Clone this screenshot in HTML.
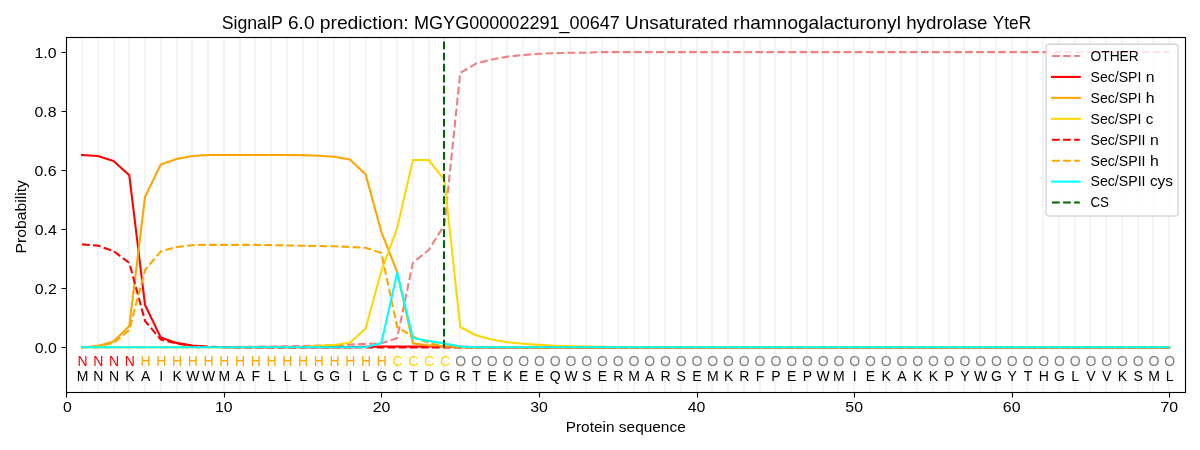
<!DOCTYPE html><html><head><meta charset="utf-8"><title>SignalP 6.0 prediction</title><style>html,body{margin:0;padding:0;background:#fff;overflow:hidden;}svg{display:block;will-change:transform;}text{font-family:"Liberation Sans",sans-serif;}</style></head><body>
<svg width="1200" height="450" viewBox="0 0 1200 450">
<rect x="0" y="0" width="1200" height="450" fill="#ffffff"/>
<path d="M82 37.5V392 M98 37.5V392 M114 37.5V392 M129 37.5V392 M145 37.5V392 M161 37.5V392 M177 37.5V392 M192 37.5V392 M208 37.5V392 M224 37.5V392 M240 37.5V392 M255 37.5V392 M271 37.5V392 M287 37.5V392 M303 37.5V392 M318 37.5V392 M334 37.5V392 M350 37.5V392 M366 37.5V392 M381 37.5V392 M397 37.5V392 M413 37.5V392 M429 37.5V392 M444 37.5V392 M460 37.5V392 M476 37.5V392 M492 37.5V392 M507 37.5V392 M523 37.5V392 M539 37.5V392 M555 37.5V392 M570 37.5V392 M586 37.5V392 M602 37.5V392 M618 37.5V392 M634 37.5V392 M649 37.5V392 M665 37.5V392 M681 37.5V392 M697 37.5V392 M712 37.5V392 M728 37.5V392 M744 37.5V392 M760 37.5V392 M775 37.5V392 M791 37.5V392 M807 37.5V392 M823 37.5V392 M838 37.5V392 M854 37.5V392 M870 37.5V392 M886 37.5V392 M901 37.5V392 M917 37.5V392 M933 37.5V392 M949 37.5V392 M964 37.5V392 M980 37.5V392 M996 37.5V392 M1012 37.5V392 M1027 37.5V392 M1043 37.5V392 M1059 37.5V392 M1075 37.5V392 M1090 37.5V392 M1106 37.5V392 M1122 37.5V392 M1138 37.5V392 M1153 37.5V392 M1169 37.5V392" stroke="#f4f4f4" stroke-width="2.0833" fill="none"/>
<defs><clipPath id="ax"><rect x="66.5" y="37.5" width="1119" height="355"/></clipPath></defs>
<g clip-path="url(#ax)" fill="none" stroke-width="2.0833" stroke-linejoin="round">
<polyline points="82.04,347.27 97.79,347.27 113.55,347.27 129.31,347.27 145.06,347.27 160.82,347.12 176.58,347.12 192.33,347.12 208.09,347.12 223.85,346.98 239.60,346.83 255.36,346.68 271.12,346.53 286.87,346.24 302.63,345.94 318.39,345.65 334.14,345.21 349.90,344.61 365.66,343.88 381.41,343.29 397.17,338.06 412.93,262.69 428.68,249.99 444.44,225.01 460.20,73.00 475.95,63.58 491.71,59.59 507.47,56.64 523.22,55.01 538.98,53.80 554.74,53.21 570.49,52.80 586.25,52.65 602.01,52.09 617.76,52.09 633.52,52.09 649.27,52.09 665.03,52.09 680.79,52.09 696.54,52.09 712.30,52.09 728.06,52.09 743.81,52.09 759.57,52.09 775.33,52.09 791.08,52.09 806.84,52.09 822.60,52.09 838.35,52.09 854.11,52.09 869.87,52.09 885.62,52.09 901.38,52.09 917.14,52.09 932.89,52.09 948.65,52.09 964.41,52.09 980.16,52.09 995.92,52.09 1011.68,52.09 1027.43,52.09 1043.19,52.09 1058.95,52.09 1074.70,52.09 1090.46,52.09 1106.22,52.09 1121.97,52.09 1137.73,52.09 1153.49,52.09 1169.24,52.09" stroke="#f08080" stroke-dasharray="7.708,3.333" stroke-linecap="butt"/>
<polyline points="82.04,154.92 97.79,155.99 113.55,160.92 129.31,175.33 145.06,305.01 160.82,337.59 176.58,342.90 192.33,345.53 208.09,346.83 223.85,347.12 239.60,347.12 255.36,347.12 271.12,347.12 286.87,347.12 302.63,347.12 318.39,347.12 334.14,347.12 349.90,347.12 365.66,346.83 381.41,346.53 397.17,346.53 412.93,346.53 428.68,346.53 444.44,346.53 460.20,346.83 475.95,347.12 491.71,347.42 507.47,347.42 523.22,347.42 538.98,347.42 554.74,347.42 570.49,347.42 586.25,347.42 602.01,347.42 617.76,347.42 633.52,347.42 649.27,347.42 665.03,347.42 680.79,347.42 696.54,347.42 712.30,347.42 728.06,347.42 743.81,347.42 759.57,347.42 775.33,347.42 791.08,347.42 806.84,347.42 822.60,347.42 838.35,347.42 854.11,347.42 869.87,347.42 885.62,347.42 901.38,347.42 917.14,347.42 932.89,347.42 948.65,347.42 964.41,347.42 980.16,347.42 995.92,347.42 1011.68,347.42 1027.43,347.42 1043.19,347.42 1058.95,347.42 1074.70,347.42 1090.46,347.42 1106.22,347.42 1121.97,347.42 1137.73,347.42 1153.49,347.42 1169.24,347.42" stroke="#ff0000" stroke-linecap="square"/>
<polyline points="82.04,347.42 97.79,345.94 113.55,341.51 129.31,326.01 145.06,196.74 160.82,164.40 176.58,158.94 192.33,155.99 208.09,155.01 223.85,155.01 239.60,155.01 255.36,155.01 271.12,155.01 286.87,155.01 302.63,155.16 318.39,155.75 334.14,156.67 349.90,159.59 365.66,174.39 381.41,232.01 397.17,272.02 412.93,343.40 428.68,345.41 444.44,346.42 460.20,347.12 475.95,347.42 491.71,347.42 507.47,347.42 523.22,347.42 538.98,347.42 554.74,347.42 570.49,347.42 586.25,347.42 602.01,347.42 617.76,347.42 633.52,347.42 649.27,347.42 665.03,347.42 680.79,347.42 696.54,347.42 712.30,347.42 728.06,347.42 743.81,347.42 759.57,347.42 775.33,347.42 791.08,347.42 806.84,347.42 822.60,347.42 838.35,347.42 854.11,347.42 869.87,347.42 885.62,347.42 901.38,347.42 917.14,347.42 932.89,347.42 948.65,347.42 964.41,347.42 980.16,347.42 995.92,347.42 1011.68,347.42 1027.43,347.42 1043.19,347.42 1058.95,347.42 1074.70,347.42 1090.46,347.42 1106.22,347.42 1121.97,347.42 1137.73,347.42 1153.49,347.42 1169.24,347.42" stroke="#ffa500" stroke-linecap="square"/>
<polyline points="82.04,347.12 97.79,347.12 113.55,347.12 129.31,347.12 145.06,347.12 160.82,347.12 176.58,347.12 192.33,347.12 208.09,347.12 223.85,347.12 239.60,347.12 255.36,347.12 271.12,347.12 286.87,347.12 302.63,347.12 318.39,346.12 334.14,344.91 349.90,342.69 365.66,328.49 381.41,270.81 397.17,228.02 412.93,160.00 428.68,160.00 444.44,179.97 460.20,326.98 475.95,335.25 491.71,339.53 507.47,342.25 523.22,343.73 538.98,344.91 554.74,345.71 570.49,346.24 586.25,346.53 602.01,346.83 617.76,346.98 633.52,347.12 649.27,347.12 665.03,347.12 680.79,347.12 696.54,347.12 712.30,347.12 728.06,347.12 743.81,347.12 759.57,347.12 775.33,347.12 791.08,347.12 806.84,347.12 822.60,347.12 838.35,347.12 854.11,347.12 869.87,347.12 885.62,347.12 901.38,347.12 917.14,347.12 932.89,347.12 948.65,347.12 964.41,347.12 980.16,347.12 995.92,347.12 1011.68,347.12 1027.43,347.12 1043.19,347.12 1058.95,347.12 1074.70,347.12 1090.46,347.12 1106.22,347.12 1121.97,347.12 1137.73,347.12 1153.49,347.12 1169.24,347.12" stroke="#ffd700" stroke-linecap="square"/>
<polyline points="82.04,244.41 97.79,245.62 113.55,251.02 129.31,262.93 145.06,321.02 160.82,339.59 176.58,343.52 192.33,345.94 208.09,346.83 223.85,347.12 239.60,347.42 255.36,347.42 271.12,347.42 286.87,347.42 302.63,347.42 318.39,347.42 334.14,347.42 349.90,347.42 365.66,347.42 381.41,347.42 397.17,347.42 412.93,347.42 428.68,347.42 444.44,347.42 460.20,347.42 475.95,347.42 491.71,347.42 507.47,347.42 523.22,347.42 538.98,347.42 554.74,347.42 570.49,347.42 586.25,347.42 602.01,347.42 617.76,347.42 633.52,347.42 649.27,347.42 665.03,347.42 680.79,347.42 696.54,347.42 712.30,347.42 728.06,347.42 743.81,347.42 759.57,347.42 775.33,347.42 791.08,347.42 806.84,347.42 822.60,347.42 838.35,347.42 854.11,347.42 869.87,347.42 885.62,347.42 901.38,347.42 917.14,347.42 932.89,347.42 948.65,347.42 964.41,347.42 980.16,347.42 995.92,347.42 1011.68,347.42 1027.43,347.42 1043.19,347.42 1058.95,347.42 1074.70,347.42 1090.46,347.42 1106.22,347.42 1121.97,347.42 1137.73,347.42 1153.49,347.42 1169.24,347.42" stroke="#ff0000" stroke-dasharray="7.708,3.333" stroke-linecap="butt"/>
<polyline points="82.04,347.42 97.79,345.94 113.55,342.99 129.31,330.00 145.06,270.01 160.82,251.32 176.58,247.01 192.33,245.21 208.09,244.85 223.85,244.85 239.60,244.85 255.36,244.85 271.12,245.15 286.87,245.44 302.63,245.74 318.39,246.03 334.14,246.33 349.90,247.01 365.66,247.81 381.41,253.00 397.17,326.98 412.93,336.58 428.68,342.99 444.44,346.42 460.20,347.12 475.95,347.42 491.71,347.42 507.47,347.42 523.22,347.42 538.98,347.42 554.74,347.42 570.49,347.42 586.25,347.42 602.01,347.42 617.76,347.42 633.52,347.42 649.27,347.42 665.03,347.42 680.79,347.42 696.54,347.42 712.30,347.42 728.06,347.42 743.81,347.42 759.57,347.42 775.33,347.42 791.08,347.42 806.84,347.42 822.60,347.42 838.35,347.42 854.11,347.42 869.87,347.42 885.62,347.42 901.38,347.42 917.14,347.42 932.89,347.42 948.65,347.42 964.41,347.42 980.16,347.42 995.92,347.42 1011.68,347.42 1027.43,347.42 1043.19,347.42 1058.95,347.42 1074.70,347.42 1090.46,347.42 1106.22,347.42 1121.97,347.42 1137.73,347.42 1153.49,347.42 1169.24,347.42" stroke="#ffa500" stroke-dasharray="7.708,3.333" stroke-linecap="butt"/>
<polyline points="82.04,347.18 97.79,347.18 113.55,347.18 129.31,347.18 145.06,347.18 160.82,347.18 176.58,347.18 192.33,347.18 208.09,347.18 223.85,347.18 239.60,347.18 255.36,347.18 271.12,347.18 286.87,347.18 302.63,347.18 318.39,347.18 334.14,347.18 349.90,347.18 365.66,347.18 381.41,342.90 397.17,272.70 412.93,338.06 428.68,341.01 444.44,343.40 460.20,346.42 475.95,347.18 491.71,347.18 507.47,347.18 523.22,347.18 538.98,347.18 554.74,347.18 570.49,347.18 586.25,347.18 602.01,347.18 617.76,347.18 633.52,347.18 649.27,347.18 665.03,347.18 680.79,347.18 696.54,347.18 712.30,347.18 728.06,347.18 743.81,347.18 759.57,347.18 775.33,347.18 791.08,347.18 806.84,347.18 822.60,347.18 838.35,347.18 854.11,347.18 869.87,347.18 885.62,347.18 901.38,347.18 917.14,347.18 932.89,347.18 948.65,347.18 964.41,347.18 980.16,347.18 995.92,347.18 1011.68,347.18 1027.43,347.18 1043.19,347.18 1058.95,347.18 1074.70,347.18 1090.46,347.18 1106.22,347.18 1121.97,347.18 1137.73,347.18 1153.49,347.18 1169.24,347.18" stroke="#00ffff" stroke-linecap="square"/>
<line x1="444" y1="347.42" x2="444" y2="37.32" stroke="#006400" stroke-dasharray="7.708,3.333" stroke-linecap="butt"/>
</g>
<g font-size="14.0" text-anchor="middle">
<text x="82.54" y="366.2" fill="#ff0000">N</text>
<text x="82.54" y="381" fill="#000">M</text>
<text x="98.29" y="366.2" fill="#ff0000">N</text>
<text x="98.29" y="381" fill="#000">N</text>
<text x="114.05" y="366.2" fill="#ff0000">N</text>
<text x="114.05" y="381" fill="#000">N</text>
<text x="129.81" y="366.2" fill="#ff0000">N</text>
<text x="129.81" y="381" fill="#000">K</text>
<text x="145.56" y="366.2" fill="#ffa500">H</text>
<text x="145.56" y="381" fill="#000">A</text>
<text x="161.32" y="366.2" fill="#ffa500">H</text>
<text x="161.32" y="381" fill="#000">I</text>
<text x="177.08" y="366.2" fill="#ffa500">H</text>
<text x="177.08" y="381" fill="#000">K</text>
<text x="192.83" y="366.2" fill="#ffa500">H</text>
<text x="192.83" y="381" fill="#000">W</text>
<text x="208.59" y="366.2" fill="#ffa500">H</text>
<text x="208.59" y="381" fill="#000">W</text>
<text x="224.35" y="366.2" fill="#ffa500">H</text>
<text x="224.35" y="381" fill="#000">M</text>
<text x="240.10" y="366.2" fill="#ffa500">H</text>
<text x="240.10" y="381" fill="#000">A</text>
<text x="255.86" y="366.2" fill="#ffa500">H</text>
<text x="255.86" y="381" fill="#000">F</text>
<text x="271.62" y="366.2" fill="#ffa500">H</text>
<text x="271.62" y="381" fill="#000">L</text>
<text x="287.37" y="366.2" fill="#ffa500">H</text>
<text x="287.37" y="381" fill="#000">L</text>
<text x="303.13" y="366.2" fill="#ffa500">H</text>
<text x="303.13" y="381" fill="#000">L</text>
<text x="318.89" y="366.2" fill="#ffa500">H</text>
<text x="318.89" y="381" fill="#000">G</text>
<text x="334.64" y="366.2" fill="#ffa500">H</text>
<text x="334.64" y="381" fill="#000">G</text>
<text x="350.40" y="366.2" fill="#ffa500">H</text>
<text x="350.40" y="381" fill="#000">I</text>
<text x="366.16" y="366.2" fill="#ffa500">H</text>
<text x="366.16" y="381" fill="#000">L</text>
<text x="381.91" y="366.2" fill="#ffa500">H</text>
<text x="381.91" y="381" fill="#000">G</text>
<text x="397.67" y="366.2" fill="#ffd700">C</text>
<text x="397.67" y="381" fill="#000">C</text>
<text x="413.43" y="366.2" fill="#ffd700">C</text>
<text x="413.43" y="381" fill="#000">T</text>
<text x="429.18" y="366.2" fill="#ffd700">C</text>
<text x="429.18" y="381" fill="#000">D</text>
<text x="444.94" y="366.2" fill="#ffd700">C</text>
<text x="444.94" y="381" fill="#000">G</text>
<text x="460.70" y="366.2" fill="#808080">O</text>
<text x="460.70" y="381" fill="#000">R</text>
<text x="476.45" y="366.2" fill="#808080">O</text>
<text x="476.45" y="381" fill="#000">T</text>
<text x="492.21" y="366.2" fill="#808080">O</text>
<text x="492.21" y="381" fill="#000">E</text>
<text x="507.97" y="366.2" fill="#808080">O</text>
<text x="507.97" y="381" fill="#000">K</text>
<text x="523.72" y="366.2" fill="#808080">O</text>
<text x="523.72" y="381" fill="#000">E</text>
<text x="539.48" y="366.2" fill="#808080">O</text>
<text x="539.48" y="381" fill="#000">E</text>
<text x="555.24" y="366.2" fill="#808080">O</text>
<text x="555.24" y="381" fill="#000">Q</text>
<text x="570.99" y="366.2" fill="#808080">O</text>
<text x="570.99" y="381" fill="#000">W</text>
<text x="586.75" y="366.2" fill="#808080">O</text>
<text x="586.75" y="381" fill="#000">S</text>
<text x="602.51" y="366.2" fill="#808080">O</text>
<text x="602.51" y="381" fill="#000">E</text>
<text x="618.26" y="366.2" fill="#808080">O</text>
<text x="618.26" y="381" fill="#000">R</text>
<text x="634.02" y="366.2" fill="#808080">O</text>
<text x="634.02" y="381" fill="#000">M</text>
<text x="649.77" y="366.2" fill="#808080">O</text>
<text x="649.77" y="381" fill="#000">A</text>
<text x="665.53" y="366.2" fill="#808080">O</text>
<text x="665.53" y="381" fill="#000">R</text>
<text x="681.29" y="366.2" fill="#808080">O</text>
<text x="681.29" y="381" fill="#000">S</text>
<text x="697.04" y="366.2" fill="#808080">O</text>
<text x="697.04" y="381" fill="#000">E</text>
<text x="712.80" y="366.2" fill="#808080">O</text>
<text x="712.80" y="381" fill="#000">M</text>
<text x="728.56" y="366.2" fill="#808080">O</text>
<text x="728.56" y="381" fill="#000">K</text>
<text x="744.31" y="366.2" fill="#808080">O</text>
<text x="744.31" y="381" fill="#000">R</text>
<text x="760.07" y="366.2" fill="#808080">O</text>
<text x="760.07" y="381" fill="#000">F</text>
<text x="775.83" y="366.2" fill="#808080">O</text>
<text x="775.83" y="381" fill="#000">P</text>
<text x="791.58" y="366.2" fill="#808080">O</text>
<text x="791.58" y="381" fill="#000">E</text>
<text x="807.34" y="366.2" fill="#808080">O</text>
<text x="807.34" y="381" fill="#000">P</text>
<text x="823.10" y="366.2" fill="#808080">O</text>
<text x="823.10" y="381" fill="#000">W</text>
<text x="838.85" y="366.2" fill="#808080">O</text>
<text x="838.85" y="381" fill="#000">M</text>
<text x="854.61" y="366.2" fill="#808080">O</text>
<text x="854.61" y="381" fill="#000">I</text>
<text x="870.37" y="366.2" fill="#808080">O</text>
<text x="870.37" y="381" fill="#000">E</text>
<text x="886.12" y="366.2" fill="#808080">O</text>
<text x="886.12" y="381" fill="#000">K</text>
<text x="901.88" y="366.2" fill="#808080">O</text>
<text x="901.88" y="381" fill="#000">A</text>
<text x="917.64" y="366.2" fill="#808080">O</text>
<text x="917.64" y="381" fill="#000">K</text>
<text x="933.39" y="366.2" fill="#808080">O</text>
<text x="933.39" y="381" fill="#000">K</text>
<text x="949.15" y="366.2" fill="#808080">O</text>
<text x="949.15" y="381" fill="#000">P</text>
<text x="964.91" y="366.2" fill="#808080">O</text>
<text x="964.91" y="381" fill="#000">Y</text>
<text x="980.66" y="366.2" fill="#808080">O</text>
<text x="980.66" y="381" fill="#000">W</text>
<text x="996.42" y="366.2" fill="#808080">O</text>
<text x="996.42" y="381" fill="#000">G</text>
<text x="1012.18" y="366.2" fill="#808080">O</text>
<text x="1012.18" y="381" fill="#000">Y</text>
<text x="1027.93" y="366.2" fill="#808080">O</text>
<text x="1027.93" y="381" fill="#000">T</text>
<text x="1043.69" y="366.2" fill="#808080">O</text>
<text x="1043.69" y="381" fill="#000">H</text>
<text x="1059.45" y="366.2" fill="#808080">O</text>
<text x="1059.45" y="381" fill="#000">G</text>
<text x="1075.20" y="366.2" fill="#808080">O</text>
<text x="1075.20" y="381" fill="#000">L</text>
<text x="1090.96" y="366.2" fill="#808080">O</text>
<text x="1090.96" y="381" fill="#000">V</text>
<text x="1106.72" y="366.2" fill="#808080">O</text>
<text x="1106.72" y="381" fill="#000">V</text>
<text x="1122.47" y="366.2" fill="#808080">O</text>
<text x="1122.47" y="381" fill="#000">K</text>
<text x="1138.23" y="366.2" fill="#808080">O</text>
<text x="1138.23" y="381" fill="#000">S</text>
<text x="1153.99" y="366.2" fill="#808080">O</text>
<text x="1153.99" y="381" fill="#000">M</text>
<text x="1169.74" y="366.2" fill="#808080">O</text>
<text x="1169.74" y="381" fill="#000">L</text>
</g>
<rect x="66.5" y="37.5" width="1119" height="355" fill="none" stroke="#000" stroke-width="1.111"/>
<path d="M66.5 392.5V397.5 M224.5 392.5V397.5 M381.5 392.5V397.5 M539.5 392.5V397.5 M697.5 392.5V397.5 M854.5 392.5V397.5 M1012.5 392.5V397.5 M1169.5 392.5V397.5 M66.5 52.5H61.5 M66.5 111.5H61.5 M66.5 170.5H61.5 M66.5 229.5H61.5 M66.5 288.5H61.5 M66.5 347.5H61.5" stroke="#000" stroke-width="1.111" fill="none"/>
<g fill="#000">
<text x="62.90" y="412.44" font-size="14.3" textLength="8.83" lengthAdjust="spacingAndGlyphs">0</text>
<text x="215.03" y="412.44" font-size="14.3" textLength="17.66" lengthAdjust="spacingAndGlyphs">10</text>
<text x="372.66" y="412.44" font-size="14.3" textLength="17.66" lengthAdjust="spacingAndGlyphs">20</text>
<text x="530.23" y="412.44" font-size="14.3" textLength="17.66" lengthAdjust="spacingAndGlyphs">30</text>
<text x="687.79" y="412.44" font-size="14.3" textLength="17.66" lengthAdjust="spacingAndGlyphs">40</text>
<text x="845.36" y="412.44" font-size="14.3" textLength="17.66" lengthAdjust="spacingAndGlyphs">50</text>
<text x="1002.86" y="412.44" font-size="14.3" textLength="17.66" lengthAdjust="spacingAndGlyphs">60</text>
<text x="1160.49" y="412.44" font-size="14.3" textLength="17.66" lengthAdjust="spacingAndGlyphs">70</text>
<text x="34.68" y="352.92" font-size="14.3" textLength="22.07" lengthAdjust="spacingAndGlyphs">0.0</text>
<text x="34.68" y="293.86" font-size="14.3" textLength="22.07" lengthAdjust="spacingAndGlyphs">0.2</text>
<text x="34.68" y="234.79" font-size="14.3" textLength="22.07" lengthAdjust="spacingAndGlyphs">0.4</text>
<text x="34.56" y="175.73" font-size="14.3" textLength="22.07" lengthAdjust="spacingAndGlyphs">0.6</text>
<text x="34.56" y="116.66" font-size="14.3" textLength="22.07" lengthAdjust="spacingAndGlyphs">0.8</text>
<text x="34.56" y="57.60" font-size="14.3" textLength="22.07" lengthAdjust="spacingAndGlyphs">1.0</text>
<text x="565.76" y="432.00" font-size="14.3" textLength="48.69" lengthAdjust="spacingAndGlyphs">Protein</text><text x="618.86" y="432.00" font-size="14.3" textLength="66.86" lengthAdjust="spacingAndGlyphs">sequence</text>
<g transform="translate(26 216.8) rotate(-90)"><text x="-36.70" y="0.00" font-size="14.3" textLength="73.39" lengthAdjust="spacingAndGlyphs">Probability</text></g>
<text x="221.64" y="29.00" font-size="17.8" textLength="61.09" lengthAdjust="spacingAndGlyphs">SignalP</text><text x="288.02" y="29.00" font-size="17.8" textLength="26.44" lengthAdjust="spacingAndGlyphs">6.0</text><text x="319.74" y="29.00" font-size="17.8" textLength="89.00" lengthAdjust="spacingAndGlyphs">prediction:</text><text x="414.03" y="29.00" font-size="17.8" textLength="205.78" lengthAdjust="spacingAndGlyphs">MGYG000002291_00647</text><text x="625.10" y="29.00" font-size="17.8" textLength="102.93" lengthAdjust="spacingAndGlyphs">Unsaturated</text><text x="733.31" y="29.00" font-size="17.8" textLength="167.58" lengthAdjust="spacingAndGlyphs">rhamnogalacturonyl</text><text x="906.18" y="29.00" font-size="17.8" textLength="81.26" lengthAdjust="spacingAndGlyphs">hydrolase</text><text x="992.72" y="29.00" font-size="17.8" textLength="38.45" lengthAdjust="spacingAndGlyphs">YteR</text>
</g>
<rect x="1046.06" y="44.28" width="132" height="171.72" rx="2.78" ry="2.78" fill="#ffffff" fill-opacity="0.8" stroke="#cccccc" stroke-opacity="0.8" stroke-width="1.389"/>
<line x1="1052.0" y1="55.97" x2="1079.8" y2="55.97" stroke="#f08080" stroke-width="2.0833" stroke-dasharray="7.708,3.333"/>
<text x="1090.50" y="60.83" font-size="14.3" textLength="48.24" lengthAdjust="spacingAndGlyphs">OTHER</text>
<line x1="1052.0" y1="76.91" x2="1079.8" y2="76.91" stroke="#ff0000" stroke-width="2.0833" stroke-linecap="square"/>
<text x="1090.50" y="81.77" font-size="14.3" textLength="50.91" lengthAdjust="spacingAndGlyphs">Sec/SPI</text><text x="1145.82" y="81.77" font-size="14.3" textLength="8.79" lengthAdjust="spacingAndGlyphs">n</text>
<line x1="1052.0" y1="97.86" x2="1079.8" y2="97.86" stroke="#ffa500" stroke-width="2.0833" stroke-linecap="square"/>
<text x="1090.50" y="102.72" font-size="14.3" textLength="50.91" lengthAdjust="spacingAndGlyphs">Sec/SPI</text><text x="1145.82" y="102.72" font-size="14.3" textLength="8.79" lengthAdjust="spacingAndGlyphs">h</text>
<line x1="1052.0" y1="118.80" x2="1079.8" y2="118.80" stroke="#ffd700" stroke-width="2.0833" stroke-linecap="square"/>
<text x="1090.50" y="123.66" font-size="14.3" textLength="50.91" lengthAdjust="spacingAndGlyphs">Sec/SPI</text><text x="1145.82" y="123.66" font-size="14.3" textLength="7.63" lengthAdjust="spacingAndGlyphs">c</text>
<line x1="1052.0" y1="139.75" x2="1079.8" y2="139.75" stroke="#ff0000" stroke-width="2.0833" stroke-dasharray="7.708,3.333"/>
<text x="1090.50" y="144.61" font-size="14.3" textLength="55.01" lengthAdjust="spacingAndGlyphs">Sec/SPII</text><text x="1149.92" y="144.61" font-size="14.3" textLength="8.79" lengthAdjust="spacingAndGlyphs">n</text>
<line x1="1052.0" y1="160.69" x2="1079.8" y2="160.69" stroke="#ffa500" stroke-width="2.0833" stroke-dasharray="7.708,3.333"/>
<text x="1090.50" y="165.55" font-size="14.3" textLength="55.01" lengthAdjust="spacingAndGlyphs">Sec/SPII</text><text x="1149.92" y="165.55" font-size="14.3" textLength="8.79" lengthAdjust="spacingAndGlyphs">h</text>
<line x1="1052.0" y1="181.63" x2="1079.8" y2="181.63" stroke="#00ffff" stroke-width="2.0833" stroke-linecap="square"/>
<text x="1090.50" y="186.49" font-size="14.3" textLength="55.01" lengthAdjust="spacingAndGlyphs">Sec/SPII</text><text x="1149.92" y="186.49" font-size="14.3" textLength="23.07" lengthAdjust="spacingAndGlyphs">cys</text>
<line x1="1052.0" y1="202.58" x2="1079.8" y2="202.58" stroke="#006400" stroke-width="2.0833" stroke-dasharray="7.708,3.333"/>
<text x="1090.50" y="207.44" font-size="14.3" textLength="18.50" lengthAdjust="spacingAndGlyphs">CS</text>
</svg></body></html>
